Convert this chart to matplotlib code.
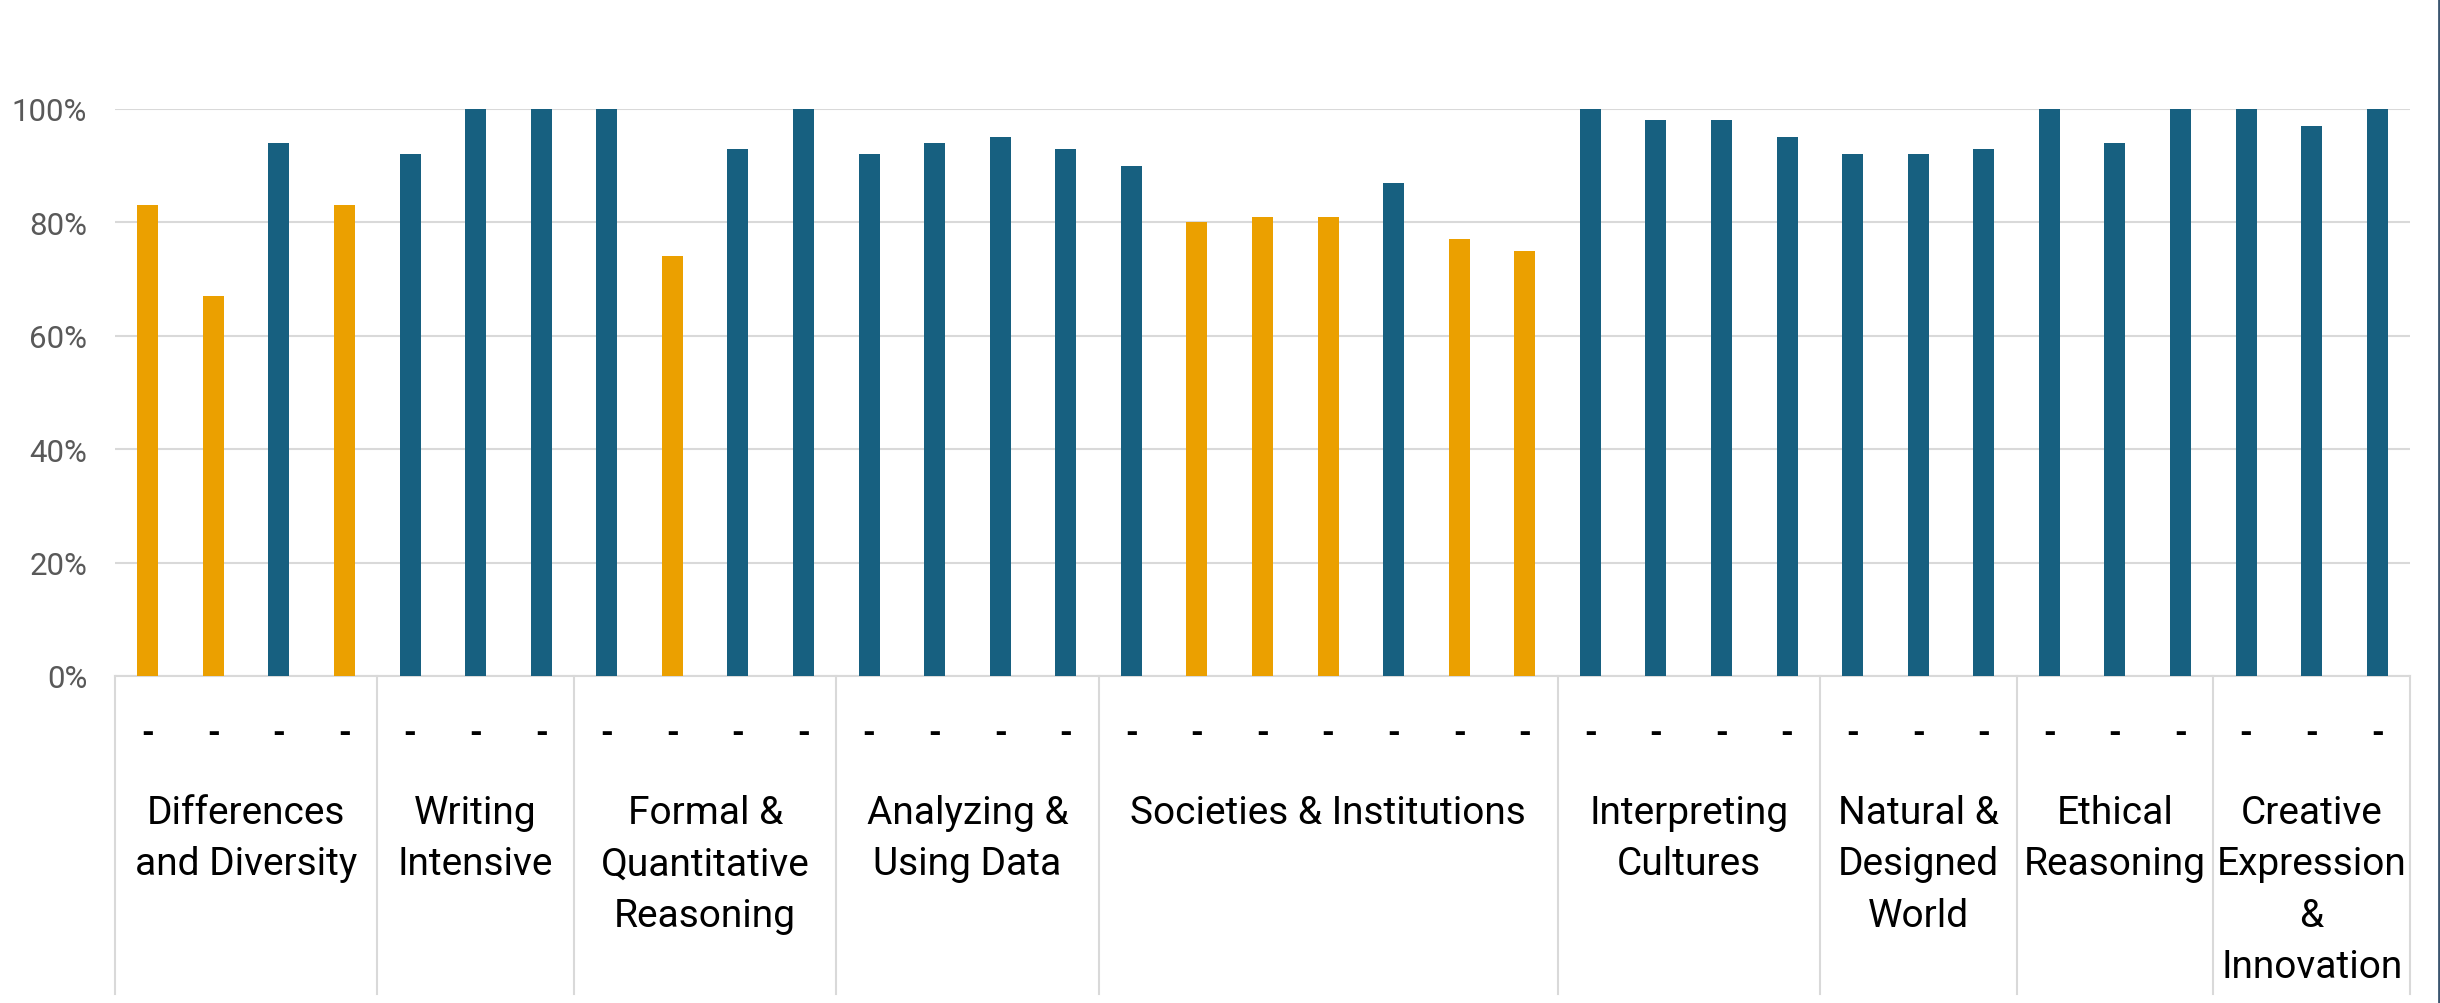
import matplotlib.pyplot as plt
from matplotlib.lines import Line2D
import numpy as np

plt.rcParams['font.family'] = ['Roboto', 'DejaVu Sans']

# categories and number of bars in each
groups = ['Differences\nand Diversity', 'Writing\nIntensive', 'Formal &\nQuantitative\nReasoning',
          'Analyzing &\nUsing Data', 'Societies & Institutions', 'Interpreting\nCultures',
          'Natural &\nDesigned\nWorld', 'Ethical\nReasoning', 'Creative\nExpression\n&\nInnovation']
group_sizes = [4, 3, 4, 4, 7, 4, 3, 3, 3]

# percent values, bar by bar
values = [83, 67, 94, 83,
          92, 100, 100,
          100, 74, 93, 100,
          92, 94, 95, 93,
          90, 80, 81, 81, 87, 77, 75,
          100, 98, 98, 95,
          92, 92, 93,
          100, 94, 100,
          100, 97, 100]
# 'o' = orange series, 'b' = blue series
series = ['o', 'o', 'b', 'o',
          'b', 'b', 'b',
          'b', 'o', 'b', 'b',
          'b', 'b', 'b', 'b',
          'b', 'o', 'o', 'o', 'b', 'o', 'o',
          'b', 'b', 'b', 'b',
          'b', 'b', 'b',
          'b', 'b', 'b',
          'b', 'b', 'b']
bar_labels = ['-'] * len(values)

colors = {'o': '#EBA000', 'b': '#176080'}
grid_col = '#D9D9D9'

fig = plt.figure(figsize=(24.4, 10.04), dpi=100)
ax = fig.add_axes([115 / 2440, 1 - 677 / 1004, 2295 / 2440, 567 / 1004])

x = np.arange(len(values))
ax.bar(x, np.array(values) / 100, width=0.32, color=[colors[s] for s in series], zorder=3)

ax.set_xlim(-0.5, len(values) - 0.5)
ax.set_ylim(0, 1)
ax.set_yticks(np.arange(0, 1.01, 0.2))
ax.set_yticklabels([f'{int(round(v * 100))}%' for v in np.arange(0, 1.01, 0.2)],
                   fontsize=22.5, color='#595959')
ax.tick_params(axis='y', length=0, pad=20)
ax.tick_params(axis='x', length=0)
ax.set_xticks([])
ax.yaxis.grid(True, color=grid_col, linewidth=1.5, zorder=0)
for s in ['top', 'right', 'left']:
    ax.spines[s].set_visible(False)
ax.spines['bottom'].set_color(grid_col)
ax.spines['bottom'].set_linewidth(1.5)

trans = ax.get_xaxis_transform()

# dashes under each bar
for xi, lab in zip(x, bar_labels):
    ax.text(xi, -0.10, lab, transform=trans, ha='center', va='center',
            fontsize=24, color='black', fontweight='bold')

# group separators and labels
bounds = np.concatenate([[0], np.cumsum(group_sizes)]) - 0.5
for b in bounds:
    ax.add_line(Line2D([b, b], [0, -0.56], transform=trans, color=grid_col,
                       linewidth=1.5, clip_on=False))
for name, lo, hi in zip(groups, bounds[:-1], bounds[1:]):
    ax.text((lo + hi) / 2, -0.208, name, transform=trans, ha='center', va='top',
            fontsize=28, color='black', linespacing=1.5)

# dark frame edge on the right
fig.add_artist(Line2D([2438.5 / 2440, 2438.5 / 2440], [0, 1], color='#3B5670', linewidth=2))

fig.savefig('out.png', dpi=100)
